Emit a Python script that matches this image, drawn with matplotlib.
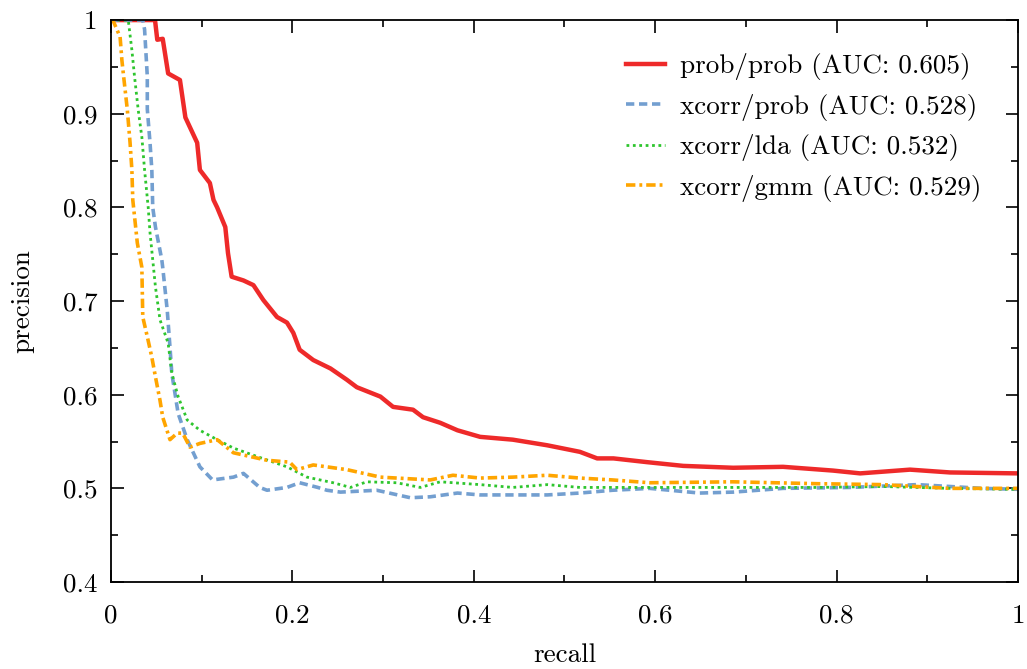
import matplotlib
matplotlib.use("Agg")
import matplotlib.pyplot as plt
from matplotlib.ticker import MultipleLocator, FuncFormatter

#Computer Modern look, like the gnuplot/latex original
plt.rcParams['font.family'] = ['cmr10', 'DejaVu Serif']
plt.rcParams['mathtext.fontset'] = 'cm'
plt.rcParams['axes.unicode_minus'] = False
plt.rcParams['axes.formatter.use_mathtext'] = True

############################################################################
#Data                                               #
############################################################################
prob_prob_r = [0.0, 0.0485, 0.051, 0.057, 0.063, 0.076, 0.082, 0.095, 0.098, 0.109, 0.113,
               0.117, 0.126, 0.129, 0.133, 0.146, 0.157, 0.168, 0.183, 0.194, 0.201, 0.208,
               0.223, 0.242, 0.260, 0.271, 0.297, 0.311, 0.333, 0.344, 0.363, 0.382, 0.407,
               0.443, 0.481, 0.517, 0.536, 0.554, 0.591, 0.631, 0.686, 0.741, 0.796, 0.826,
               0.881, 0.925, 1.0]
prob_prob_p = [1.0, 1.0, 0.979, 0.98, 0.943, 0.936, 0.896, 0.869, 0.84, 0.826, 0.808,
               0.80, 0.779, 0.751, 0.726, 0.722, 0.717, 0.701, 0.683, 0.677, 0.666, 0.648,
               0.637, 0.628, 0.616, 0.608, 0.598, 0.587, 0.584, 0.576, 0.570, 0.562, 0.555,
               0.552, 0.546, 0.539, 0.532, 0.532, 0.528, 0.524, 0.522, 0.523, 0.519, 0.516,
               0.520, 0.517, 0.516]

xcorr_prob_r = [0.0, 0.035, 0.037, 0.040, 0.040, 0.043, 0.045, 0.046, 0.048, 0.049, 0.056,
                0.057, 0.062, 0.065, 0.067, 0.074, 0.084, 0.098, 0.112, 0.135, 0.146, 0.164,
                0.172, 0.194, 0.208, 0.228, 0.238, 0.253, 0.293, 0.330, 0.352, 0.382, 0.407,
                0.443, 0.481, 0.517, 0.553, 0.594, 0.649, 0.686, 0.741, 0.815, 0.889, 0.961, 1.0]
xcorr_prob_p = [1.0, 1.0, 0.99, 0.94, 0.905, 0.869, 0.84, 0.80, 0.786, 0.779, 0.744,
                0.736, 0.69, 0.651, 0.623, 0.580, 0.552, 0.523, 0.509, 0.512, 0.516, 0.501,
                0.498, 0.501, 0.506, 0.501, 0.498, 0.496, 0.498, 0.490, 0.491, 0.495, 0.493,
                0.493, 0.493, 0.495, 0.498, 0.500, 0.495, 0.496, 0.500, 0.501, 0.504, 0.500, 0.499]

xcorr_lda_r = [0.0, 0.019, 0.023, 0.026, 0.030, 0.034, 0.037, 0.041, 0.043, 0.049, 0.054,
               0.063, 0.067, 0.074, 0.084, 0.098, 0.117, 0.135, 0.164, 0.194, 0.216, 0.245,
               0.264, 0.282, 0.315, 0.341, 0.363, 0.407, 0.443, 0.481, 0.517, 0.553, 0.594,
               0.705, 0.778, 0.851, 0.925, 1.0]
xcorr_lda_p = [1.0, 1.0, 0.968, 0.939, 0.904, 0.875, 0.84, 0.80, 0.773, 0.715, 0.68,
               0.655, 0.623, 0.598, 0.573, 0.562, 0.552, 0.543, 0.533, 0.523, 0.512, 0.506,
               0.501, 0.507, 0.506, 0.501, 0.507, 0.504, 0.501, 0.504, 0.501, 0.501, 0.501,
               0.501, 0.501, 0.502, 0.500, 0.499]

xcorr_gmm_r = [0.0, 0.002, 0.010, 0.012, 0.014, 0.018, 0.021, 0.023, 0.024, 0.029, 0.034,
               0.035, 0.040, 0.045, 0.049, 0.054, 0.057, 0.065, 0.073, 0.079, 0.087, 0.098,
               0.117, 0.135, 0.172, 0.197, 0.205, 0.223, 0.260, 0.297, 0.352, 0.377, 0.407,
               0.443, 0.481, 0.517, 0.553, 0.594, 0.686, 0.778, 0.851, 0.925, 1.0]
xcorr_gmm_p = [1.0, 1.0, 0.982, 0.957, 0.939, 0.904, 0.869, 0.84, 0.808, 0.762, 0.736,
               0.683, 0.662, 0.64, 0.619, 0.594, 0.576, 0.552, 0.559, 0.559, 0.544, 0.548,
               0.552, 0.538, 0.530, 0.528, 0.520, 0.525, 0.520, 0.512, 0.509, 0.514, 0.511,
               0.512, 0.514, 0.511, 0.509, 0.506, 0.507, 0.505, 0.504, 0.500, 0.500]

labels = ["prob/prob (AUC: 0.605)", "xcorr/prob (AUC: 0.528)",
          "xcorr/lda (AUC: 0.532)", "xcorr/gmm (AUC: 0.529)"]

############################################################################
#Plot                                                                      #
############################################################################
fs = 19.5
fig = plt.figure(figsize=(10.27, 6.69), dpi=100)
ax = fig.add_axes([0.1081, 0.130, 0.8831, 0.840])

ax.plot(prob_prob_r, prob_prob_p, color="#ee2a2a", lw=3.2, label=labels[0])
ax.plot(xcorr_prob_r, xcorr_prob_p, color="#739fd0", lw=2.6, ls=(0, (2.3, 1.3)), label=labels[1])
ax.plot(xcorr_lda_r, xcorr_lda_p, color="#2ec52e", lw=2.0, ls=(0, (1, 1.3)), label=labels[2])
ax.plot(xcorr_gmm_r, xcorr_gmm_p, color="#ffa500", lw=2.6, ls=(0, (2.6, 1.1, 0.8, 1.1)), label=labels[3])

ax.set_xlim(0, 1)
ax.set_ylim(0.4, 1)
ax.xaxis.set_major_locator(MultipleLocator(0.2))
ax.xaxis.set_minor_locator(MultipleLocator(0.1))
ax.yaxis.set_major_locator(MultipleLocator(0.1))
ax.yaxis.set_minor_locator(MultipleLocator(0.05))
fmt = FuncFormatter(lambda v, pos: "%g" % round(v, 2))
ax.xaxis.set_major_formatter(fmt)
ax.yaxis.set_major_formatter(fmt)
ax.tick_params(which="both", direction="in", top=True, right=True, width=1.2, labelsize=fs)
ax.tick_params(which="major", length=9)
ax.tick_params(which="minor", length=5)
ax.tick_params(axis="x", which="major", pad=16)
ax.tick_params(axis="y", which="major", pad=10)
for s in ax.spines.values():
    s.set_linewidth(1.3)

ax.set_xlabel("recall", fontsize=fs, labelpad=11)
ax.set_ylabel("precision", fontsize=fs, labelpad=20)

leg = ax.legend(loc="upper right", frameon=False, fontsize=fs, handlelength=1.45,
                labelspacing=0.5, handletextpad=0.55, borderpad=0, borderaxespad=0,
                bbox_to_anchor=(0.960, 0.941))

fig.savefig("out.png", dpi=100)
